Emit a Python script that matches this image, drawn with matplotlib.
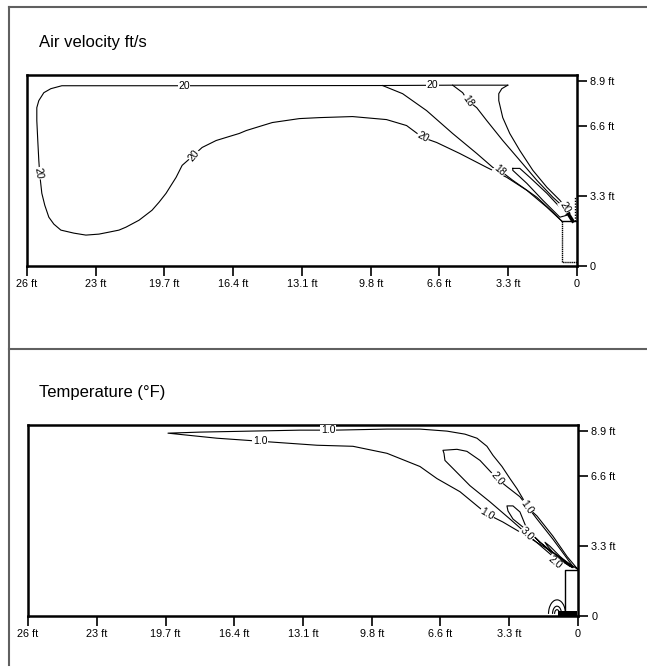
import numpy as np
import matplotlib
matplotlib.use("Agg")
import matplotlib.pyplot as plt
from matplotlib.lines import Line2D
from matplotlib.patches import Arc

plt.rcParams['font.family'] = ['Liberation Sans Narrow', 'Liberation Sans', 'DejaVu Sans']

# distances in metres (labels in ft)
x_ticks = [8, 7, 6, 5, 4, 3, 2, 1, 0]
x_tick_labels = ['26 ft', '23 ft', '19.7 ft', '16.4 ft', '13.1 ft', '9.8 ft', '6.6 ft', '3.3 ft', '0']
y_ticks = [0, 1, 2, 2.63]
y_tick_labels = ['0', '3.3 ft', '6.6 ft', '8.9 ft']

# ---- air velocity contours (x, y) ----
vel_20_outer_x = [1.006, 1.808, 2.828, 5.714, 7.493, 7.653, 7.755, 7.828, 7.857, 7.857, 7.843, 7.828,
                  7.813, 7.784, 7.741, 7.682, 7.609, 7.507, 7.318, 7.143, 6.953, 6.808, 6.662, 6.560,
                  6.370, 6.181, 6.079, 5.977, 5.904, 5.831, 5.743, 5.612, 5.452, 5.248, 5.058, 4.913,
                  4.810, 4.621, 4.431, 4.038, 3.746, 3.265, 2.770, 2.478, 2.245, 2.041, 1.706, 1.312,
                  1.020, 0.729, 0.437, 0.219]
vel_20_outer_y = [2.575, 2.575, 2.570, 2.567, 2.567, 2.525, 2.468, 2.355, 2.255, 2.071, 1.787, 1.504,
                  1.291, 1.035, 0.865, 0.695, 0.596, 0.511, 0.468, 0.440, 0.454, 0.482, 0.511, 0.553,
                  0.652, 0.794, 0.908, 1.035, 1.149, 1.262, 1.433, 1.546, 1.688, 1.787, 1.844, 1.887,
                  1.929, 1.986, 2.043, 2.099, 2.113, 2.128, 2.085, 2.000, 1.830, 1.759, 1.603, 1.404,
                  1.262, 1.078, 0.837, 0.638]
vel_18_low_x = [2.828, 2.536, 2.187, 1.808, 1.458, 1.224, 1.122, 0.933, 0.583, 0.350, 0.219]
vel_18_low_y = [2.570, 2.454, 2.213, 1.887, 1.603, 1.404, 1.362, 1.220, 0.979, 0.766, 0.638]
vel_18_up_x = [1.808, 1.662, 1.589, 1.458, 1.312, 1.079, 0.831, 0.583, 0.350, 0.175, 0.131]
vel_18_up_y = [2.575, 2.468, 2.355, 2.255, 2.071, 1.787, 1.504, 1.220, 0.979, 0.823, 0.766]
vel_edge_x = [1.006, 1.093, 1.137, 1.137, 1.079, 0.977, 0.831, 0.641, 0.437, 0.248, 0.102]
vel_edge_y = [2.575, 2.525, 2.454, 2.355, 2.113, 1.887, 1.645, 1.362, 1.121, 0.936, 0.752]
vel_core_x = [0.933, 0.831, 0.685, 0.437, 0.248, 0.146, 0.248, 0.496, 0.729, 0.933, 0.933]
vel_core_y = [1.390, 1.390, 1.262, 1.035, 0.837, 0.723, 0.695, 0.936, 1.177, 1.362, 1.390]
vel_labels = [('20', 5.714, 2.567, 0), ('20', 7.828, 1.319, -80), ('20', 5.569, 1.574, 50),
              ('20', 2.099, 2.575, 0), ('20', 2.245, 1.830, -28), ('18', 1.122, 1.362, -40),
              ('18', 1.589, 2.355, -55), ('20', 0.175, 0.837, -60)]

# ---- temperature contours ----
t_10_x = [0.0, 0.160, 0.364, 0.596, 0.742, 0.800, 0.887, 0.989, 1.105, 1.236, 1.324, 1.469, 1.644,
          1.905, 2.298, 2.778, 3.535, 4.044, 4.771, 5.498, 5.964, 5.687, 5.251, 4.625, 3.796, 3.273,
          2.778, 2.298, 2.051, 1.716, 1.324, 1.091, 0.742, 0.364, 0.0]
t_10_y = [0.662, 0.849, 1.137, 1.424, 1.554, 1.669, 1.813, 1.957, 2.129, 2.288, 2.417, 2.532, 2.590,
          2.633, 2.662, 2.662, 2.647, 2.647, 2.633, 2.619, 2.604, 2.576, 2.532, 2.489, 2.432, 2.417,
          2.317, 2.129, 1.957, 1.770, 1.453, 1.338, 1.137, 0.906, 0.662]
t_20_x = [0.073, 0.364, 0.655, 0.989, 1.280, 1.571, 1.818, 1.935, 1.949, 1.964, 1.760, 1.615, 1.425,
          1.178, 1.033, 0.844, 0.596, 0.364, 0.073]
t_20_y = [0.691, 0.849, 1.094, 1.381, 1.626, 1.856, 2.101, 2.216, 2.317, 2.360, 2.374, 2.345, 2.216,
          1.957, 1.842, 1.698, 1.381, 1.094, 0.705]
t_30_x = [0.087, 0.364, 0.553, 0.742, 0.844, 0.945, 1.033, 1.018, 0.945, 0.800, 0.596, 0.364, 0.116]
t_30_y = [0.705, 0.906, 1.050, 1.237, 1.482, 1.568, 1.568, 1.496, 1.381, 1.266, 1.094, 0.878, 0.705]
t_20b_x = [0.073, 0.262, 0.407, 0.480, 0.451, 0.364, 0.087]
t_20b_y = [0.691, 0.849, 0.993, 1.050, 1.007, 0.906, 0.691]
temp_labels = [('1.0', 3.636, 2.647, 0), ('1.0', 4.625, 2.489, 0), ('2.0', 1.178, 1.957, -50),
               ('1.0', 0.742, 1.554, -55), ('1.0', 1.324, 1.453, -30), ('3.0', 0.742, 1.165, -45),
               ('2.0', 0.335, 0.763, -40)]

# lamp / fixture outlines
box_top_x = [0.219, 0.0]
box_top_y = [0.638, 0.638]
box_side_x = [0.219, 0.219, 0.0]
box_side_y = [0.638, 0.057, 0.057]
box2_x = [0.0, 0.189, 0.189]
box2_y = [0.662, 0.662, 0.03]

fig = plt.figure(figsize=(6.47, 6.69), dpi=100)

# outer frame
gray = '#606060'
fig.add_artist(Line2D([0.0139, 1.0], [0.9895, 0.9895], color=gray, lw=1.5))
fig.add_artist(Line2D([0.0139, 0.0139], [0.9895, 0.006], color=gray, lw=1.5))
fig.add_artist(Line2D([0.0139, 1.0], [0.4783, 0.4783], color=gray, lw=1.5))

fig.text(0.0610, 0.937, 'Air velocity ft/s', fontsize=12, va='center', ha='left')
fig.text(0.0610, 0.4126, 'Temperature (°F)', fontsize=12, va='center', ha='left')


def setup(ax):
    ax.set_xlim(8.0, 0)
    ax.set_ylim(0, 2.72)
    ax.set_xticks(x_ticks)
    ax.set_xticklabels(x_tick_labels)
    ax.set_yticks(y_ticks)
    ax.set_yticklabels(y_tick_labels)
    ax.yaxis.tick_right()
    ax.tick_params(axis='both', direction='out', length=7, width=1.2, labelsize=7.8, pad=2.5)
    for s in ax.spines.values():
        s.set_linewidth(1.8)


def label(ax, txt, x, y, rot):
    ax.text(x, y, txt, fontsize=7.5, rotation=rot, ha='center', va='center',
            rotation_mode='anchor',
            bbox=dict(fc='white', ec='none', pad=0.3))


ax1 = fig.add_axes([0.0417, 0.6024, 0.850, 0.2855])
setup(ax1)
lw = 0.8
for xs, ys in [(vel_20_outer_x, vel_20_outer_y), (vel_18_low_x, vel_18_low_y),
               (vel_18_up_x, vel_18_up_y), (vel_edge_x, vel_edge_y), (vel_core_x, vel_core_y)]:
    ax1.plot(xs, ys, color='black', lw=lw)
ax1.plot(box_top_x, box_top_y, color='black', lw=1.0)
ax1.plot(box_side_x, box_side_y, color='black', lw=1.0, ls=(0, (1, 0.5)))
ax1.plot([0.029, 0.029], [0.638, 0.98], color='black', lw=1.0, ls=(0, (1, 1)))
ax1.plot([0.131, 0.06], [0.75, 0.64], color='black', lw=2.5)
for t in vel_labels:
    label(ax1, *t)

ax2 = fig.add_axes([0.0433, 0.0792, 0.850, 0.2855])
setup(ax2)
for xs, ys in [(t_10_x, t_10_y), (t_20_x, t_20_y), (t_30_x, t_30_y), (t_20b_x, t_20b_y)]:
    ax2.plot(xs, ys, color='black', lw=lw)
ax2.plot(box2_x, box2_y, color='black', lw=1.0)
for w, h in [(0.247, 0.40), (0.13, 0.22), (0.07, 0.12)]:
    ax2.add_patch(Arc((0.305, 0.03), w, h, theta1=0, theta2=200, color='black', lw=0.8))
ax2.fill_between([0.015, 0.29], 0, 0.07, color='black', lw=0)
for t in temp_labels:
    label(ax2, *t)

fig.savefig('out.png', dpi=100)
